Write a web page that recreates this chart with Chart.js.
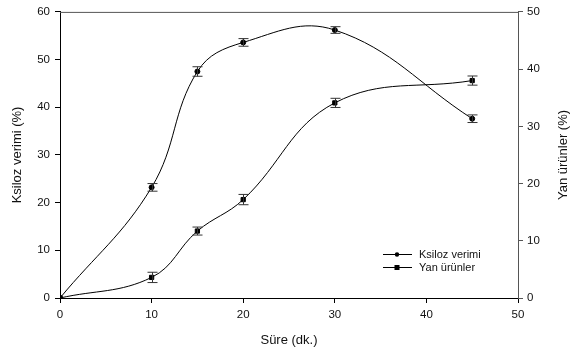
<!DOCTYPE html>
<html>
<head>
<meta charset="utf-8">
<script src="https://cdn.jsdelivr.net/npm/chart.js@4"></script>
<style>
  html, body { margin: 0; padding: 0; background: #fff; }
  #wrap { width: 570px; height: 351px; position: relative; }
</style>
</head>
<body>
<div id="wrap"><canvas id="chart"></canvas></div>
<script>
// Data
const sureDk = [0, 10, 15, 20, 30, 45];
const ksilozVerimi = [0, 23.2, 47.5, 53.6, 56.2, 37.6];
const ksilozHata = [0, 0.8, 1.0, 0.8, 0.7, 0.8];
const yanUrunler = [0, 3.6, 11.7, 17.2, 34.1, 38.0];
const yanHata = [0, 0.9, 0.7, 0.9, 0.8, 0.8];
const xTicks = [0, 10, 20, 30, 40, 50];
const leftTicks = [0, 10, 20, 30, 40, 50, 60];
const rightTicks = [0, 10, 20, 30, 40, 50];

const FONT = 'Liberation Sans, Arial, sans-serif';
const TEXT = '#111';

const toPoints = (xs, ys) => xs.map((x, i) => ({ x, y: ys[i] }));

// error bars, titles, frame and legend drawn on top
const extras = {
  id: 'extras',
  afterDatasetsDraw(chart) {
    const { ctx, chartArea, scales } = chart;
    ctx.save();

    // top frame line
    ctx.strokeStyle = '#555';
    ctx.lineWidth = 1;
    ctx.beginPath();
    ctx.moveTo(chartArea.left, chartArea.top + 0.5);
    ctx.lineTo(chartArea.right, chartArea.top + 0.5);
    ctx.stroke();

    // error bars
    const bars = [
      { ys: ksilozVerimi, err: ksilozHata, axis: 'y' },
      { ys: yanUrunler, err: yanHata, axis: 'y2' },
    ];
    ctx.strokeStyle = '#333';
    bars.forEach(b => {
      const ys = scales[b.axis];
      sureDk.forEach((x, i) => {
        if (!b.err[i]) return;
        const px = Math.round(scales.x.getPixelForValue(x)) + 0.5;
        const top = ys.getPixelForValue(b.ys[i] + b.err[i]);
        const bot = ys.getPixelForValue(b.ys[i] - b.err[i]);
        ctx.beginPath();
        ctx.moveTo(px, top); ctx.lineTo(px, bot);
        ctx.moveTo(px - 5, top); ctx.lineTo(px + 5, top);
        ctx.moveTo(px - 5, bot); ctx.lineTo(px + 5, bot);
        ctx.stroke();
      });
    });

    // axis titles
    ctx.fillStyle = TEXT;
    ctx.font = '13px ' + FONT;
    ctx.textAlign = 'center';
    ctx.textBaseline = 'middle';
    const midY = (chartArea.top + chartArea.bottom) / 2;
    ctx.fillText('Süre (dk.)', (chartArea.left + chartArea.right) / 2, 340);
    [[17, 'Ksiloz verimi (%)'], [563, 'Yan ürünler (%)']].forEach(([x, t]) => {
      ctx.save();
      ctx.translate(x, midY);
      ctx.rotate(-Math.PI / 2);
      ctx.fillText(t, 0, 0);
      ctx.restore();
    });

    // legend
    ctx.font = '11px ' + FONT;
    ctx.textAlign = 'left';
    ctx.strokeStyle = '#000';
    ctx.fillStyle = '#000';
    chart.data.datasets.forEach((ds, i) => {
      const y = 254 + i * 13;
      ctx.beginPath();
      ctx.moveTo(383, y + 0.5); ctx.lineTo(412, y + 0.5);
      ctx.stroke();
      if (ds.pointStyle === 'rect') ctx.fillRect(394.5, y - 2, 5, 5);
      else { ctx.beginPath(); ctx.arc(397, y + 0.5, 2.2, 0, Math.PI * 2); ctx.fill(); }
      ctx.fillStyle = TEXT;
      ctx.fillText(ds.label, 419, y + 1);
      ctx.fillStyle = '#000';
    });
    ctx.restore();
  }
};

const tickFont = { family: FONT, size: 11.5 };

new Chart(document.getElementById('chart'), {
  type: 'line',
  data: {
    datasets: [
      {
        label: 'Ksiloz verimi',
        data: toPoints(sureDk, ksilozVerimi),
        yAxisID: 'y',
        borderColor: '#000',
        borderWidth: 1,
        backgroundColor: '#000',
        pointStyle: 'circle',
        pointRadius: 2.5,
        tension: 0.4,
      },
      {
        label: 'Yan ürünler',
        data: toPoints(sureDk, yanUrunler),
        yAxisID: 'y2',
        borderColor: '#000',
        borderWidth: 1,
        backgroundColor: '#000',
        pointStyle: 'rect',
        pointRadius: 3,
        tension: 0.4,
      },
    ],
  },
  options: {
    responsive: true,
    maintainAspectRatio: false,
    animation: false,
    layout: { padding: { top: 8, left: 0, right: 0, bottom: 0 } },
    plugins: {
      legend: { display: false },
      tooltip: { enabled: false },
    },
    scales: {
      x: {
        type: 'linear',
        min: 0,
        max: 50,
        afterBuildTicks: s => { s.ticks = xTicks.map(v => ({ value: v })); },
        afterFit: s => { s.height = 53; },
        grid: { drawOnChartArea: false, tickLength: 5, color: '#000' },
        border: { color: '#000' },
        ticks: { color: TEXT, font: tickFont, padding: 5 },
      },
      y: {
        position: 'left',
        min: 0,
        max: 60,
        afterBuildTicks: s => { s.ticks = leftTicks.map(v => ({ value: v })); },
        afterFit: s => { s.width = 60; },
        grid: { drawOnChartArea: false, tickLength: 5, color: '#000' },
        border: { color: '#000' },
        ticks: { color: TEXT, font: tickFont, padding: 5 },
      },
      y2: {
        position: 'right',
        min: 0,
        max: 50,
        afterBuildTicks: s => { s.ticks = rightTicks.map(v => ({ value: v })); },
        afterFit: s => { s.width = 52; },
        grid: { drawOnChartArea: false, tickLength: 5, color: '#555' },
        border: { color: '#555' },
        ticks: { color: TEXT, font: tickFont, padding: 4 },
      },
    },
  },
  plugins: [extras],
});
</script>
</body>
</html>
